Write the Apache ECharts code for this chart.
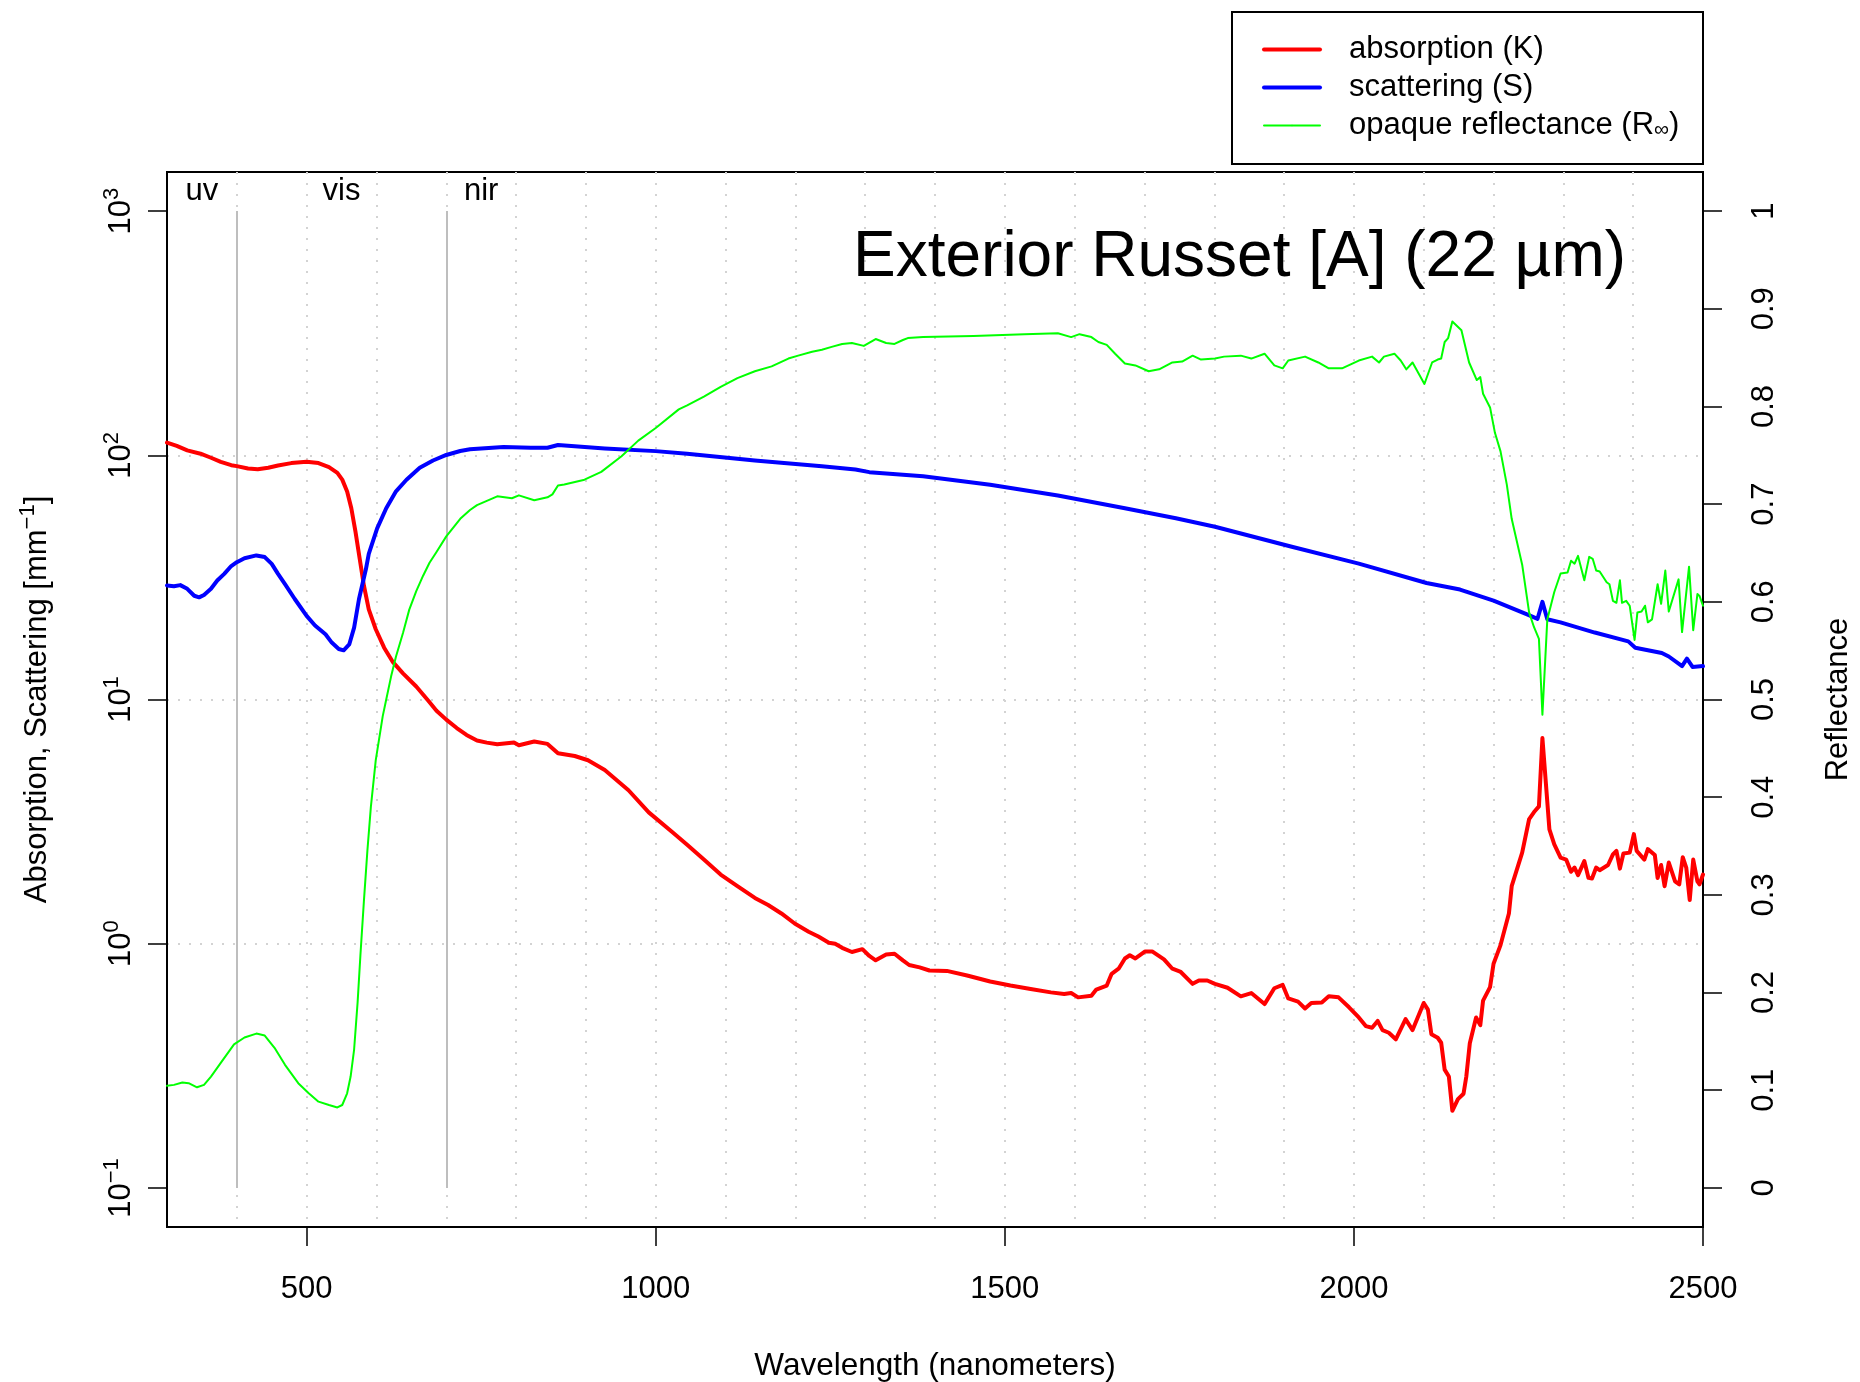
<!DOCTYPE html>
<html>
<head>
<meta charset="utf-8">
<script src="https://cdn.jsdelivr.net/npm/echarts@6/dist/echarts.min.js"></script>
<style>
  html, body { margin: 0; padding: 0; background: #ffffff; }
  #chart { width: 1860px; height: 1382px; }
</style>
</head>
<body>
<div id="chart"></div>
<script>
// Absorption coefficient K [mm^-1] against wavelength [nm]
const wavelengthK = [
  300, 314, 329, 348, 363, 377, 392, 400, 416, 430,
  445, 459, 478, 500, 517, 532, 544, 551, 558, 564,
  570, 576, 582, 589, 599, 611, 623, 638, 657, 674,
  686, 700, 715, 729, 744, 758, 773, 797, 804, 826,
  845, 860, 884, 903, 927, 961, 990, 1024, 1045, 1069,
  1093, 1117, 1142, 1161, 1180, 1199, 1219, 1233, 1248, 1257,
  1267, 1281, 1296, 1306, 1315, 1330, 1342, 1354, 1363, 1378,
  1392, 1417, 1446, 1479, 1508, 1537, 1566, 1585, 1595, 1605,
  1624, 1631, 1646, 1653, 1663, 1672, 1679, 1687, 1701, 1711,
  1728, 1740, 1752, 1769, 1778, 1790, 1801, 1819, 1838, 1853,
  1872, 1886, 1898, 1906, 1920, 1930, 1939, 1954, 1964, 1978,
  1993, 2007, 2017, 2026, 2034, 2041, 2050, 2060, 2074, 2084,
  2100, 2106, 2111, 2120, 2125, 2130, 2136, 2141, 2149, 2157,
  2161, 2166, 2175, 2181, 2185, 2195, 2200, 2210, 2222, 2226,
  2241, 2251, 2258, 2265, 2270, 2275, 2280, 2287, 2296, 2304,
  2311, 2316, 2321, 2330, 2336, 2341, 2347, 2352, 2364, 2371,
  2376, 2381, 2386, 2395, 2401, 2405, 2416, 2421, 2431, 2435,
  2440, 2445, 2451, 2460, 2466, 2471, 2476, 2481, 2486, 2492,
  2495, 2500
];
const absorptionK = [
  112.7, 109.2, 104.8, 101.5, 97.7, 94.0, 91.1, 90.3, 88.3, 87.7,
  88.9, 90.8, 92.9, 94.0, 92.9, 89.4, 84.7, 79.5, 71.1, 60.7,
  48.6, 37.7, 29.3, 23.4, 19.4, 16.3, 14.3, 12.8, 11.3, 9.9,
  9.0, 8.27, 7.64, 7.16, 6.79, 6.66, 6.56, 6.67, 6.5, 6.73,
  6.58, 6.02, 5.87, 5.64, 5.14, 4.25, 3.45, 2.86, 2.54, 2.21,
  1.92, 1.72, 1.54, 1.44, 1.33, 1.21, 1.12, 1.07, 1.01, 1.00,
  0.962, 0.925, 0.95, 0.891, 0.855, 0.904, 0.91, 0.855, 0.818, 0.80,
  0.777, 0.774, 0.741, 0.70, 0.674, 0.653, 0.632, 0.622, 0.628, 0.603,
  0.612, 0.649, 0.674, 0.753, 0.79, 0.87, 0.897, 0.87, 0.93, 0.93,
  0.863, 0.79, 0.766, 0.685, 0.707, 0.707, 0.685, 0.66, 0.609, 0.628,
  0.566, 0.657, 0.678, 0.597, 0.579, 0.543, 0.572, 0.575, 0.609, 0.603,
  0.549, 0.499, 0.46, 0.453, 0.483, 0.443, 0.432, 0.406, 0.491, 0.443,
  0.572, 0.537, 0.426, 0.412, 0.393, 0.305, 0.286, 0.207, 0.231, 0.243,
  0.286, 0.391, 0.499, 0.464, 0.585, 0.664, 0.828, 0.987, 1.33, 1.72,
  2.36, 3.24, 3.46, 3.65, 6.95, 4.52, 2.94, 2.55, 2.25, 2.21,
  1.97, 2.05, 1.91, 2.18, 1.86, 1.85, 2.05, 2.0, 2.10, 2.32,
  2.40, 2.03, 2.34, 2.36, 2.81, 2.40, 2.21, 2.44, 2.31, 1.86,
  2.10, 1.72, 2.15, 1.80, 1.75, 2.26, 2.05, 1.51, 2.21, 1.80,
  1.75, 1.92
];

// Scattering coefficient S [mm^-1]
const wavelengthS = [
  300, 310, 319, 329, 339, 346, 353, 363, 372, 382,
  392, 400, 411, 428, 440, 450, 459, 469, 483, 500,
  512, 527, 536, 546, 553, 561, 568, 575, 585, 589,
  601, 614, 628, 643, 662, 681, 700, 720, 734, 782,
  821, 845, 860, 927, 1000, 1045, 1142, 1238, 1286, 1306,
  1383, 1479, 1576, 1672, 1745, 1801, 1911, 2007, 2104, 2152,
  2200, 2248, 2263, 2270, 2277, 2296, 2345, 2393, 2403, 2441,
  2451, 2470, 2477, 2485, 2500
];
const scatteringS = [
  29.3, 29.1, 29.4, 28.4, 26.6, 26.2, 26.8, 28.4, 30.7, 32.7,
  35.2, 36.5, 37.9, 38.9, 38.3, 35.9, 32.7, 29.7, 25.8, 22.0,
  20.1, 18.5, 17.1, 16.1, 15.9, 16.8, 19.7, 25.8, 34.3, 39.5,
  50.2, 60.7, 71.2, 79.4, 88.9, 95.2, 100.3, 104.1, 105.8, 108.1,
  107.4, 107.4, 110.2, 106.7, 104, 101.4, 95.2, 90.2, 87.5, 85.3,
  82.1, 75.8, 68.5, 60.7, 55.2, 51, 42.2, 36, 30, 28.2,
  25.4, 22.3, 21.4, 25.1, 21.3, 20.7, 18.8, 17.3, 16.3, 15.5,
  15, 13.7, 14.7, 13.6, 13.7
];

// Opaque reflectance R-infinity (right axis, 0..1)
const wavelengthR = [
  300, 310, 322, 331, 343, 353, 363, 377, 396, 411,
  428, 440, 454, 469, 488, 503, 517, 532, 544, 551,
  558, 563, 568, 573, 577, 582, 587, 592, 599, 609,
  614, 621, 628, 638, 647, 657, 667, 676, 686, 700,
  720, 734, 744, 773, 794, 804, 826, 845, 852, 860,
  869, 898, 922, 951, 975, 1000, 1033, 1045, 1069, 1093,
  1117, 1142, 1166, 1190, 1204, 1224, 1238, 1252, 1267, 1281,
  1298, 1315, 1330, 1342, 1354, 1361, 1383, 1455, 1528, 1576,
  1595, 1607, 1624, 1634, 1646, 1658, 1672, 1687, 1706, 1721,
  1740, 1754, 1769, 1781, 1801, 1814, 1838, 1853, 1872, 1886,
  1898, 1906, 1930, 1949, 1964, 1983, 2007, 2026, 2036, 2043,
  2058, 2067, 2075, 2084, 2101, 2112, 2120, 2125, 2130, 2135,
  2141, 2154, 2165, 2176, 2181, 2185, 2195, 2202, 2210, 2219,
  2226, 2241, 2251, 2258, 2265, 2270, 2277, 2282, 2287, 2296,
  2306, 2311, 2316, 2321, 2330, 2337, 2342, 2347, 2352, 2362,
  2366, 2371, 2376, 2381, 2384, 2390, 2395, 2402, 2406, 2412,
  2417, 2421, 2427, 2435, 2440, 2446, 2451, 2465, 2470, 2480,
  2486, 2492, 2495, 2500
];
const reflectanceR = [
  0.1045, 0.1055, 0.108, 0.1072, 0.103, 0.1055, 0.114, 0.128, 0.147, 0.154,
  0.158, 0.156, 0.1434, 0.126, 0.1072, 0.0969, 0.0883, 0.0849, 0.0824, 0.0849,
  0.0969, 0.114, 0.1417, 0.190, 0.238, 0.2933, 0.345, 0.390, 0.438, 0.483,
  0.500, 0.5237, 0.544, 0.568, 0.592, 0.611, 0.627, 0.640, 0.651, 0.667,
  0.685, 0.694, 0.699, 0.708, 0.706, 0.709, 0.704, 0.707, 0.710, 0.719,
  0.720, 0.725, 0.733, 0.749, 0.765, 0.778, 0.797, 0.801, 0.810, 0.820,
  0.829, 0.836, 0.841, 0.849, 0.852, 0.856, 0.858, 0.861, 0.864, 0.865,
  0.862, 0.869, 0.865, 0.864, 0.868, 0.870, 0.871, 0.872, 0.874, 0.875,
  0.871, 0.874, 0.871, 0.866, 0.863, 0.854, 0.844, 0.842, 0.836, 0.838,
  0.845, 0.846, 0.852, 0.848, 0.849, 0.851, 0.852, 0.849, 0.854, 0.842,
  0.839, 0.847, 0.851, 0.845, 0.839, 0.839, 0.847, 0.851, 0.845, 0.851,
  0.854, 0.847, 0.838, 0.845, 0.823, 0.845, 0.848, 0.849, 0.866, 0.870,
  0.887, 0.878, 0.845, 0.827, 0.830, 0.813, 0.799, 0.773, 0.754, 0.720,
  0.685, 0.638, 0.589, 0.574, 0.562, 0.4845, 0.582, 0.596, 0.610, 0.629,
  0.630, 0.642, 0.639, 0.647, 0.622, 0.646, 0.644, 0.632, 0.631, 0.620,
  0.618, 0.601, 0.599, 0.622, 0.599, 0.601, 0.596, 0.561, 0.589, 0.590,
  0.596, 0.579, 0.582, 0.618, 0.598, 0.632, 0.590, 0.623, 0.569, 0.636,
  0.571, 0.608, 0.606, 0.596
];

// Spectral regions: names, label centres and boundaries (nm)
const regionNames = ['uv', 'vis', 'nir'];
const regionCenters = [350, 550, 750];
const regionBounds = [400, 700];
const regionLabelLevel = 1200;

// Axis tick values
const wavelengthTicks = [500, 1000, 1500, 2000, 2500];
const logTicks = [0.1, 1, 10, 100, 1000];
const reflectanceTicks = [0, 0.1, 0.2, 0.3, 0.4, 0.5, 0.6, 0.7, 0.8, 0.9, 1];

const seriesNames = ['absorption (K)', 'scattering (S)', 'opaque reflectance (R\u221E)'];
const titleText = 'Exterior Russet [A] (22 \u00B5m)';

const FONT = '"Liberation Sans", Arial, Helvetica, sans-serif';
const pairs = (xs, ys) => xs.map((x, i) => [x, ys[i]]);

const supRich = {
  b: { fontSize: 31, lineHeight: 31, verticalAlign: 'bottom', color: '#000', fontFamily: FONT },
  s: { fontSize: 22, lineHeight: 22, padding: [0, 0, 14, 0], verticalAlign: 'bottom', color: '#000', fontFamily: FONT }
};
const dottedGrid = { color: '#d3d3d3', width: 2, type: [2, 9] };

const chart = echarts.init(document.getElementById('chart'), null, { renderer: 'canvas' });

const plotLeft = 167, plotTop = 172, plotWidth = 1536, plotHeight = 1055;

chart.setOption({
  animation: false,
  backgroundColor: '#ffffff',
  textStyle: { fontFamily: FONT, color: '#000' },
  title: {
    text: titleText,
    left: 853,
    top: 226,
    padding: 0,
    textStyle: { fontSize: 64, fontWeight: 'normal', color: '#000', fontFamily: FONT }
  },
  legend: {
    data: seriesNames.map(n => ({ name: n })),
    orient: 'vertical',
    left: 1262,
    top: 34,
    padding: 0,
    itemGap: 7,
    itemWidth: 56,
    itemHeight: 2,
    selectedMode: false,
    lineStyle: { width: 'inherit' },
    textStyle: {
      fontSize: 31, lineHeight: 31, color: '#000', fontFamily: FONT,
      padding: [0, 0, 0, 24],
      rich: {
        sub: { fontSize: 21, lineHeight: 21, padding: [10, 0, 0, 0], color: '#000', fontFamily: FONT }
      }
    },
    formatter: name => name.replace('\u221E', '{sub|\u221E}')
  },
  graphic: [{
    type: 'rect',
    shape: { x: 1232, y: 12, width: 471, height: 152 },
    style: { fill: 'none', stroke: '#000', lineWidth: 2 },
    silent: true
  }],
  grid: {
    left: plotLeft, top: plotTop, width: plotWidth, height: plotHeight,
    containLabel: false,
    outerBoundsMode: 'none',
    show: true,
    borderColor: '#000',
    borderWidth: 2,
    backgroundColor: 'transparent'
  },
  xAxis: [{
    type: 'value',
    min: 300, max: 2500,
    position: 'bottom',
    axisLine: { show: true, onZero: false, lineStyle: { color: '#000', width: 2 } },
    axisTick: { show: true, inside: false, length: 19, customValues: wavelengthTicks, lineStyle: { color: '#000', width: 1.5 } },
    axisLabel: {
      show: true, customValues: wavelengthTicks, margin: 47,
      fontSize: 31, color: '#000', fontFamily: FONT,
      formatter: v => String(v)
    },
    splitLine: { show: false },
    name: 'Wavelength (nanometers)',
    nameLocation: 'middle',
    nameGap: 124,
    nameTextStyle: { fontSize: 31.5, lineHeight: 31, color: '#000', fontFamily: FONT }
  }, {
    type: 'value',
    min: 300, max: 2500, interval: 100,
    position: 'top',
    axisLine: { show: false },
    axisTick: { show: false },
    axisLabel: { show: false },
    splitLine: { show: true, showMinLine: false, showMaxLine: false, lineStyle: dottedGrid }
  }],
  yAxis: [{
    type: 'log',
    logBase: 10,
    min: Math.pow(10, -1.16),
    max: Math.pow(10, 3.16),
    position: 'left',
    axisLine: { show: true, onZero: false, lineStyle: { color: '#000', width: 2 } },
    axisTick: { show: true, inside: false, length: 19, customValues: logTicks, lineStyle: { color: '#000', width: 1.5 } },
    axisLabel: {
      show: true, customValues: logTicks, rotate: 90, margin: 30,
      formatter: v => {
        const e = Math.round(Math.log10(v));
        return '{b|10}{s|' + (e < 0 ? '\u2212' + (-e) : String(e)) + '}';
      },
      rich: supRich
    },
    splitLine: { show: true, showMinLine: false, showMaxLine: false, lineStyle: dottedGrid },
    name: '{b|Absorption, Scattering [mm}{s|\u22121}{b|]}',
    nameLocation: 'middle',
    nameRotate: 90,
    nameGap: 114,
    nameTextStyle: { fontSize: 31, color: '#000', fontFamily: FONT, rich: supRich }
  }, {
    type: 'value',
    min: -0.04, max: 1.04,
    position: 'right',
    axisLine: { show: true, onZero: false, lineStyle: { color: '#000', width: 2 } },
    axisTick: { show: true, inside: false, length: 19, customValues: reflectanceTicks, lineStyle: { color: '#000', width: 1.5 } },
    axisLabel: {
      show: true, customValues: reflectanceTicks, rotate: 90, margin: 46,
      fontSize: 31, lineHeight: 31, color: '#000', fontFamily: FONT,
      formatter: v => String(v)
    },
    splitLine: { show: false },
    name: 'Reflectance',
    nameLocation: 'middle',
    nameRotate: 90,
    nameGap: 120,
    nameTextStyle: { fontSize: 31, lineHeight: 31, color: '#000', fontFamily: FONT }
  }],
  series: [{
    name: seriesNames[0],
    type: 'line',
    xAxisIndex: 0, yAxisIndex: 0,
    data: pairs(wavelengthK, absorptionK),
    symbol: 'none',
    z: 2,
    lineStyle: { color: '#ff0000', width: 4, cap: 'round', join: 'round' },
    itemStyle: { color: '#ff0000' },
    markLine: {
      silent: true,
      z: 1,
      symbol: ['none', 'none'],
      label: { show: false },
      lineStyle: { color: '#bebebe', width: 2, type: 'solid' },
      data: regionBounds.map(b => [
        { coord: [b, logTicks[0]] },
        { coord: [b, logTicks[logTicks.length - 1]] }
      ])
    }
  }, {
    name: seriesNames[1],
    type: 'line',
    xAxisIndex: 0, yAxisIndex: 0,
    data: pairs(wavelengthS, scatteringS),
    symbol: 'none',
    z: 3,
    lineStyle: { color: '#0000ff', width: 4, cap: 'round', join: 'round' },
    itemStyle: { color: '#0000ff' }
  }, {
    name: seriesNames[2],
    type: 'line',
    xAxisIndex: 0, yAxisIndex: 1,
    data: pairs(wavelengthR, reflectanceR),
    symbol: 'none',
    z: 4,
    lineStyle: { color: '#00ff00', width: 2, cap: 'round', join: 'round' },
    itemStyle: { color: '#00ff00' }
  }, {
    name: 'regions',
    type: 'scatter',
    xAxisIndex: 0, yAxisIndex: 0,
    data: regionCenters.map(c => [c, regionLabelLevel]),
    symbolSize: 0,
    silent: true,
    z: 5,
    label: {
      show: true,
      position: 'inside',
      formatter: p => regionNames[p.dataIndex],
      fontSize: 31, color: '#000000', opacity: 1, textBorderWidth: 0, fontFamily: FONT
    }
  }]
});
</script>
</body>
</html>
